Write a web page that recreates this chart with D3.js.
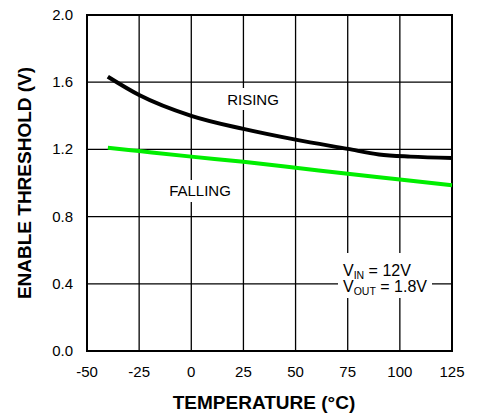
<!DOCTYPE html>
<html>
<head>
<meta charset="utf-8">
<script src="https://cdn.jsdelivr.net/npm/d3@7"></script>
<style>
body { margin: 0; background: #fff; }
text { font-family: "Liberation Sans", Arial, sans-serif; }
</style>
</head>
<body>
<svg id="chart" width="484" height="418"></svg>
<script>
// data
var risingT = [-40, -25, 0, 25, 50, 75, 90, 105, 125];
var rising = [1.633, 1.524, 1.40, 1.322, 1.258, 1.203, 1.170, 1.157, 1.149];
var fallingT = [-40, -25, 0, 25, 50, 75, 100, 125];
var falling = [1.21, 1.19, 1.157, 1.126, 1.091, 1.055, 1.021, 0.986];
var xTicks = [-50, -25, 0, 25, 50, 75, 100, 125];
var yTicks = [0, 0.4, 0.8, 1.2, 1.6, 2.0];

var LEFT = 87, RIGHT = 452, TOP = 15, BOTTOM = 351;

var svg = d3.select('#chart');

var x = d3.scaleLinear().domain([-50, 125]).range([LEFT, RIGHT]);
var y = d3.scaleLinear().domain([0, 2]).range([BOTTOM, TOP]);

// grid
svg.append('g').selectAll('line')
	.data(xTicks)
	.enter()
	.append('line')
	.attr('x1', function(d) { return x(d) })
	.attr('x2', function(d) { return x(d) })
	.attr('y1', TOP)
	.attr('y2', BOTTOM)
	.style('stroke', '#000')
	.style('stroke-width', 1.3);

svg.append('g').selectAll('line')
	.data(yTicks)
	.enter()
	.append('line')
	.attr('x1', LEFT)
	.attr('x2', RIGHT)
	.attr('y1', function(d) { return y(d) })
	.attr('y2', function(d) { return y(d) })
	.style('stroke', '#000')
	.style('stroke-width', 1.3);

svg.append('rect')
	.attr('x', LEFT)
	.attr('y', TOP)
	.attr('width', RIGHT - LEFT)
	.attr('height', BOTTOM - TOP)
	.style('fill', 'none')
	.style('stroke', '#000')
	.style('stroke-width', 2);

// tick labels
svg.append('g').selectAll('text')
	.data(yTicks)
	.enter()
	.append('text')
	.attr('x', 73)
	.attr('y', function(d) { return y(d) + 5 })
	.attr('text-anchor', 'end')
	.style('font-size', '15px')
	.text(function(d) { return d3.format('.1f')(d) });

svg.append('g').selectAll('text')
	.data(xTicks)
	.enter()
	.append('text')
	.attr('x', function(d) { return x(d) })
	.attr('y', 377)
	.attr('text-anchor', 'middle')
	.style('font-size', '15px')
	.text(function(d) { return d });

// axis titles
svg.append('text')
	.attr('x', 264)
	.attr('y', 409)
	.attr('text-anchor', 'middle')
	.style('font-size', '19px')
	.style('font-weight', 'bold')
	.text('TEMPERATURE (°C)');

svg.append('text')
	.attr('transform', 'translate(31,183) rotate(-90)')
	.attr('text-anchor', 'middle')
	.style('font-size', '19px')
	.style('font-weight', 'bold')
	.text('ENABLE THRESHOLD (V)');

// white boxes behind labels
var labelBg = [
	{ x: 222, y: 88, w: 62, h: 22 },
	{ x: 164, y: 180, w: 72, h: 22 },
	{ x: 338, y: 253, w: 94, h: 45 }
];
svg.append('g').selectAll('rect')
	.data(labelBg)
	.enter()
	.append('rect')
	.attr('x', function(d) { return d.x })
	.attr('y', function(d) { return d.y })
	.attr('width', function(d) { return d.w })
	.attr('height', function(d) { return d.h })
	.style('fill', '#fff');

// curves
var line = d3.line()
	.x(function(d) { return x(d[0]) })
	.y(function(d) { return y(d[1]) })
	.curve(d3.curveMonotoneX);

svg.append('path')
	.datum(d3.zip(fallingT, falling))
	.attr('d', line)
	.style('fill', 'none')
	.style('stroke', '#00ee00')
	.style('stroke-width', 4);

svg.append('path')
	.datum(d3.zip(risingT, rising))
	.attr('d', line)
	.style('fill', 'none')
	.style('stroke', '#000')
	.style('stroke-width', 4);

// labels
svg.append('text')
	.attr('x', 253)
	.attr('y', 105)
	.attr('text-anchor', 'middle')
	.style('font-size', '15px')
	.text('RISING');

svg.append('text')
	.attr('x', 200)
	.attr('y', 196)
	.attr('text-anchor', 'middle')
	.style('font-size', '15px')
	.text('FALLING');

var vin = svg.append('text')
	.attr('x', 343)
	.attr('y', 276)
	.style('font-size', '16px');
vin.append('tspan').text('V');
vin.append('tspan').attr('dy', 3).style('font-size', '10.5px').text('IN');
vin.append('tspan').attr('dy', -3).text(' = 12V');

var vout = svg.append('text')
	.attr('x', 343)
	.attr('y', 292)
	.style('font-size', '16px');
vout.append('tspan').text('V');
vout.append('tspan').attr('dy', 3).style('font-size', '10.5px').text('OUT');
vout.append('tspan').attr('dy', -3).text(' = 1.8V');
</script>
</body>
</html>
